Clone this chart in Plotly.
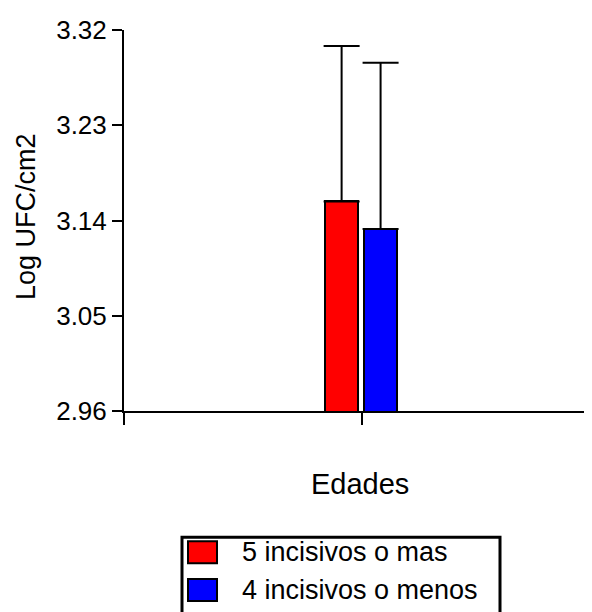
import plotly.graph_objects as go

# ---- data ----
categories = ["Edades"]
series_names = ["5 incisivos o mas", "4 incisivos o menos"]
series_means = [3.158, 3.132]
series_errors = [0.147, 0.157]
series_colors = ["#ff0000", "#0000ff"]
y_ticks = [2.96, 3.05, 3.14, 3.23, 3.32]
y_tick_labels = ["2.96", "3.05", "3.14", "3.23", "3.32"]
y_title = "Log UFC/cm2"

# page body has an 8px margin; figure sized to fit the window
OFF = 8
W, H = 584, 604
L, R, T, B = 116, 7, 20, 201
FONT = "Arial, Liberation Sans, sans-serif"

fig = go.Figure()
offsets = [-0.508, 0.033]
for name, m, e, c, off in zip(series_names, series_means, series_errors, series_colors, offsets):
    fig.add_trace(go.Bar(
        x=[0], y=[m], name=name,
        marker=dict(color=c, line=dict(color="black", width=2)),
        width=0.458, offset=off,
        error_y=dict(type="data", array=[e], arrayminus=[0], symmetric=False,
                     color="black", thickness=2, width=18),
        showlegend=False,
    ))

fig.update_layout(
    width=W, height=H,
    margin=dict(l=L, r=R, t=T, b=B, pad=0),
    plot_bgcolor="white", paper_bgcolor="white",
    font=dict(family=FONT, color="black", size=26),
    bargap=0,
    xaxis=dict(range=[-3.3, 3.1], tickvals=[-3.3, 0], ticktext=["", ""],
               ticks="outside", ticklen=12, tickwidth=2, tickcolor="black",
               showline=True, linewidth=2, linecolor="black",
               showgrid=False, zeroline=False),
    yaxis=dict(range=[2.96, 3.32], tickvals=y_ticks, ticktext=y_tick_labels,
               ticks="outside", ticklen=10, tickwidth=2, tickcolor="black",
               showline=True, linewidth=2, linecolor="black",
               showgrid=False, zeroline=False, tickfont=dict(size=26)),
)

pw, ph = W - L - R, H - T - B
def px(xs):
    return (xs - OFF - L) / pw
def py(ys):
    return (H - B - (ys - OFF)) / ph

shapes = [dict(type="rect", xref="paper", yref="paper",
               x0=px(182), x1=px(500), y0=py(538), y1=py(660),
               line=dict(color="black", width=3), fillcolor="rgba(0,0,0,0)")]
annotations = [
    dict(xref="paper", yref="paper", x=px(360), y=py(484), text=categories[0],
         showarrow=False, xanchor="center", yanchor="middle",
         font=dict(size=29, family=FONT, color="black")),
    dict(xref="paper", yref="paper", x=px(26), y=py(216), text=y_title, textangle=-90,
         showarrow=False, xanchor="center", yanchor="middle",
         font=dict(size=27, family=FONT, color="black")),
]
rows = [553, 591]
for name, c, yc in zip(series_names, series_colors, rows):
    shapes.append(dict(type="rect", xref="paper", yref="paper",
                       x0=px(188), x1=px(217), y0=py(yc - 11), y1=py(yc + 11),
                       line=dict(color="black", width=2), fillcolor=c))
    annotations.append(dict(xref="paper", yref="paper", x=px(240), y=py(yc),
                            text=name, showarrow=False, xanchor="left", yanchor="middle",
                            font=dict(size=27, family=FONT, color="black")))
fig.update_layout(shapes=shapes, annotations=annotations)

fig.write_html("out.html")
